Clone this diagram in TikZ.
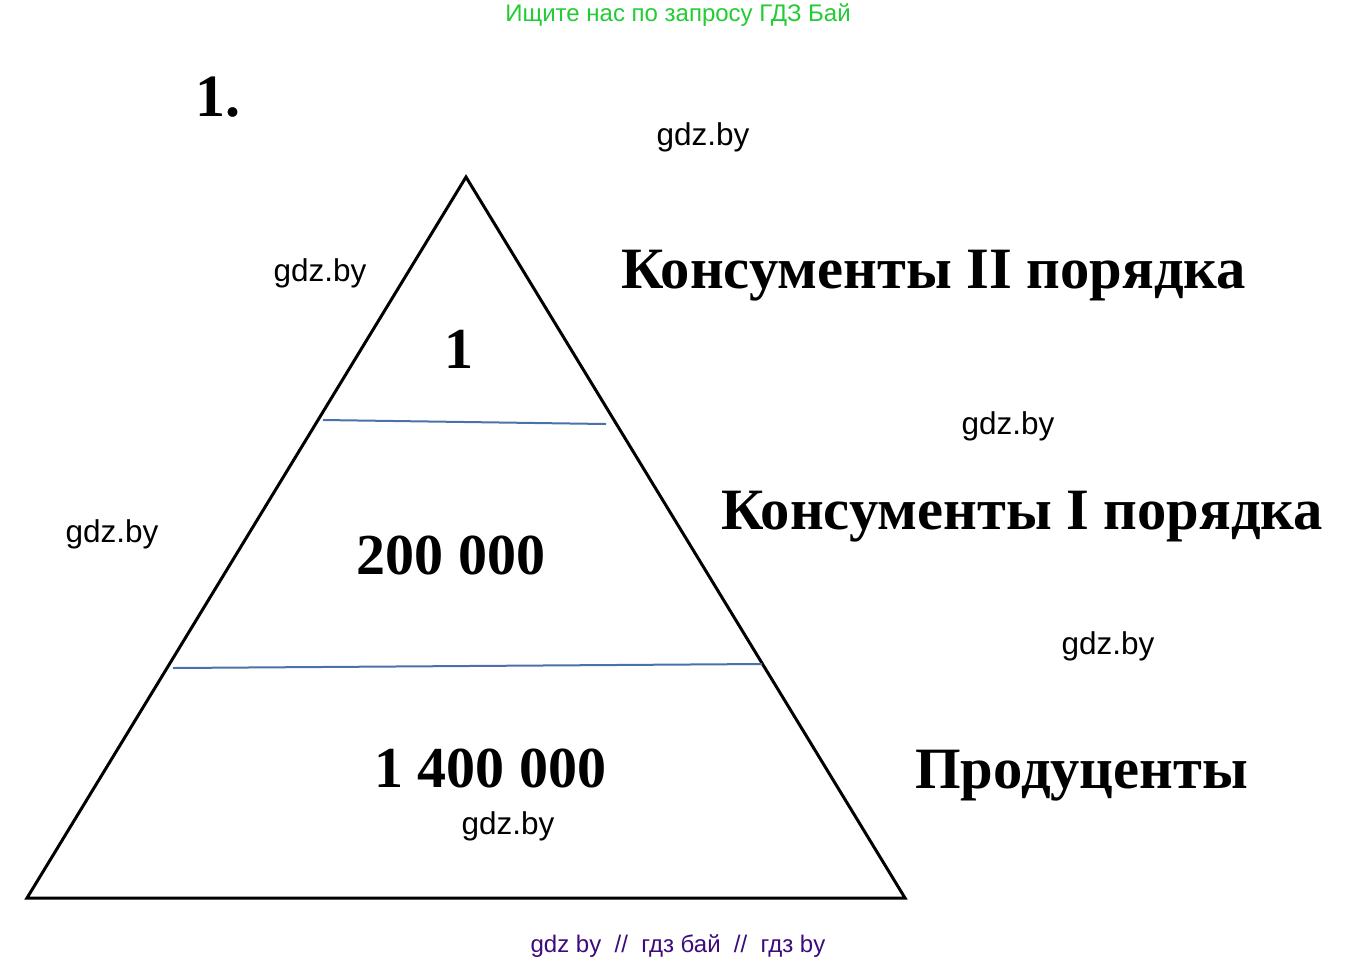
\documentclass[tikz,border=0pt]{standalone}
\usepackage{fontspec}
\setmainfont{Liberation Serif}
\newfontfamily\wmfont{Liberation Sans}
\definecolor{wmgreen}{HTML}{22CC33}
\definecolor{wmpurple}{HTML}{3D0B7A}
\definecolor{lineblue}{HTML}{4A72A8}
\tikzset{
  wm/.style={font=\wmfont\fontsize{31.5}{31.5}\selectfont, anchor=base, inner sep=0pt},
  big/.style={font=\bfseries\fontsize{58.6}{58.6}\selectfont, inner sep=0pt},
  num/.style={font=\bfseries\fontsize{58}{58}\selectfont, anchor=base, inner sep=0pt},
  edge/.style={line width=3pt, black},
  divider/.style={line width=2pt, lineblue},
}
\begin{document}
\begin{tikzpicture}[x=1pt,y=-1pt]
\useasboundingbox (0,0) rectangle (1359,962);
\fill[white] (0,0) rectangle (1359,962);
% header/footer
\node[font=\wmfont\fontsize{24}{24}\selectfont, text=wmgreen, anchor=base, inner sep=0pt] (hdr) at (678,21) {Ищите нас по запросу ГДЗ Бай};
\node[font=\wmfont\fontsize{24}{24}\selectfont, text=wmpurple, anchor=base, inner sep=0pt] (ftr) at (678,952) {gdz by\ \ //\ \ гдз бай\ \ //\ \ гдз by};
% number
\node[font=\bfseries\fontsize{60}{60}\selectfont, anchor=base west, inner sep=0pt] (no) at (195,116) {1.};
% triangle
\coordinate (apex) at (466,177);
\coordinate (bl) at (27,898);
\coordinate (br) at (905,898);
\draw[edge, line join=miter] (apex) -- (bl) -- (br) -- cycle;
% dividers
\coordinate (d1a) at (323,420);
\coordinate (d1b) at (606,424);
\coordinate (d2a) at (173,668);
\coordinate (d2b) at (762,664);
\draw[divider] (d1a) -- (d1b);
\draw[divider] (d2a) -- (d2b);
% numbers
\node[num] (n1) at (459,368) {1};
\node[num] (n2) at (451,574) {200 000};
\node[num] (n3) at (490,787) {1 400 000};
% labels
\node[big, anchor=base west] (l1) at (621,288) {Консументы II порядка};
\node[big, anchor=base west] (l2) at (721,529) {Консументы I порядка};
\node[big, anchor=base west] (l3) at (915,788) {Продуценты};
% watermarks
\node[wm] (w1) at (703,145) {gdz.by};
\node[wm] (w2) at (320,281) {gdz.by};
\node[wm] (w3) at (1008,434) {gdz.by};
\node[wm] (w4) at (112,542) {gdz.by};
\node[wm] (w5) at (1108,654) {gdz.by};
\node[wm] (w6) at (508,834) {gdz.by};
\end{tikzpicture}
\end{document}
